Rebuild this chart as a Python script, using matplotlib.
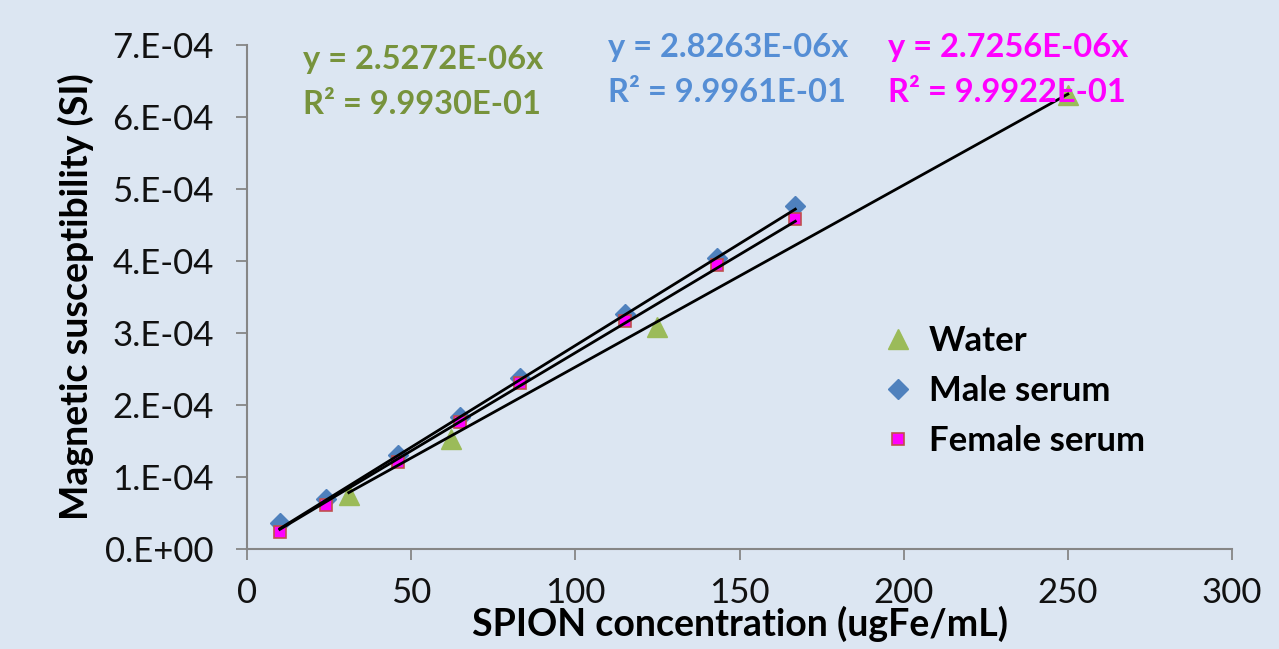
import matplotlib.pyplot as plt
import numpy as np

# Data
water_x = [31, 62, 125, 250]
water_y = [7.5e-05, 1.53e-04, 3.09e-04, 6.30e-04]
male_x = [10, 24, 46, 65, 83, 115, 143, 167]
male_y = [3.6e-05, 7.0e-05, 1.30e-04, 1.84e-04, 2.37e-04, 3.26e-04, 4.04e-04, 4.77e-04]
female_x = [10, 24, 46, 65, 83, 115, 143, 167]
female_y = [2.4e-05, 6.1e-05, 1.21e-04, 1.76e-04, 2.30e-04, 3.16e-04, 3.94e-04, 4.59e-04]

# Trendline slopes (through origin) and R² as printed
slopes = {'water': 2.5272e-06, 'male': 2.8263e-06, 'female': 2.7256e-06}
r2 = {'water': '9.9930E-01', 'male': '9.9961E-01', 'female': '9.9922E-01'}

yticks = [0, 1e-04, 2e-04, 3e-04, 4e-04, 5e-04, 6e-04, 7e-04]
ytick_labels = ['0.E+00', '1.E-04', '2.E-04', '3.E-04', '4.E-04', '5.E-04', '6.E-04', '7.E-04']
xticks = [0, 50, 100, 150, 200, 250, 300]

bg = '#dce6f2'
plt.rcParams['font.family'] = ['Lato', 'DejaVu Sans']

fig = plt.figure(figsize=(12.79, 6.49), dpi=100, facecolor=bg)
ax = fig.add_axes([247/1279, 1-549/649, (1232-247)/1279, (549-45)/649])
ax.set_facecolor(bg)

# Trendlines spanning each series' x range
for xs, key in [(water_x, 'water'), (male_x, 'male'), (female_x, 'female')]:
    xl = np.array([min(xs), max(xs)])
    ax.plot(xl, slopes[key]*xl, color='black', lw=2, zorder=3)

ax.plot(water_x, water_y, '^', color='#9bbb59', ms=15, mec='#9bbb59', ls='none', label='Water', zorder=2)
ax.plot(male_x, male_y, 'D', color='#4f81bd', ms=10, mec='#4f81bd', ls='none', label='Male serum', zorder=2)
ax.plot(female_x, female_y, 's', color='#ff00ff', ms=8.5, mec='#c0504d', mew=1.2, ls='none', label='Female serum', zorder=2)

ax.set_xlim(0, 300)
ax.set_ylim(0, 7e-04)
ax.set_xticks(xticks)
ax.set_yticks(yticks)
ax.set_yticklabels(ytick_labels)
ax.tick_params(axis='both', direction='out', length=8, width=1.3, color='#868686',
               labelsize=25, labelcolor='#111111')
ax.tick_params(axis='x', pad=12)
ax.tick_params(axis='y', pad=16)
for s in ['top', 'right']:
    ax.spines[s].set_visible(False)
for s in ['left', 'bottom']:
    ax.spines[s].set_color('#868686')
    ax.spines[s].set_linewidth(1.5)

ax.set_xlabel('SPION concentration (ugFe/mL)', fontsize=27, fontweight='bold', labelpad=-2)
ax.set_ylabel('Magnetic susceptibility (SI)', fontsize=27, fontweight='bold', labelpad=8)

leg = ax.legend(loc='upper left', bbox_to_anchor=(884/1279, 1-325/649), bbox_transform=fig.transFigure,
                frameon=False, prop={'size': 25, 'weight': 'bold'}, handletextpad=0.5,
                labelspacing=0.52, handlelength=0.8, borderpad=0, borderaxespad=0)

# Trendline equations
eqs = [(303, 'water', '#77933c'), (608, 'male', '#558ed5'), (888, 'female', '#ff00ff')]
tops = {'water': 60, 'male': 47, 'female': 47}
for px, key, col in eqs:
    y0 = tops[key]
    fig.text(px/1279, 1-y0/649, 'y = %.4fE-06x' % (slopes[key]*1e6), color=col,
             fontsize=23.5, fontweight='bold', ha='left', va='center')
    fig.text(px/1279, 1-(y0+45)/649, 'R² = ' + r2[key], color=col,
             fontsize=23.5, fontweight='bold', ha='left', va='center')

fig.savefig('out.png', dpi=100, facecolor=bg)
